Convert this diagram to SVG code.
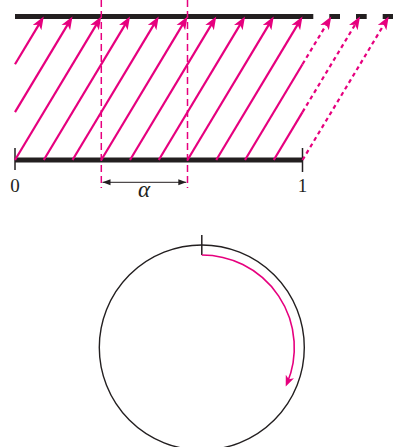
<svg xmlns="http://www.w3.org/2000/svg" width="393" height="447" viewBox="0 0 393 447">
<style>
.bar{stroke:#231f20;stroke-width:5;fill:none}
.tick{stroke:#231f20;stroke-width:1.5;fill:none}
.pk{stroke:#e6007e;stroke-width:2.2;fill:none;marker-end:url(#ph)}
.pks{stroke:#e6007e;stroke-width:2.2;fill:none}
.dot{stroke-dasharray:4 3.5}
.vd{stroke:#e6007e;stroke-width:1.5;stroke-dasharray:7 4;fill:none}
.lbl{font-family:"Liberation Serif",serif;font-size:19px;fill:#231f20;text-anchor:middle}
.greek{font-size:23px;font-style:italic}
</style>
<defs>
<marker id="ph" viewBox="-13 -6 14 12" refX="-6" refY="0" markerWidth="14" markerHeight="12" markerUnits="userSpaceOnUse" orient="auto">
<path d="M0,0 L-13,-5 L-9.5,0 L-13,5 Z" fill="#e6007e"/>
</marker>
<marker id="ph2" viewBox="-11 -5 12 10" refX="-4" refY="0" markerWidth="12" markerHeight="10" markerUnits="userSpaceOnUse" orient="auto">
<path d="M0,0 L-11,-4.5 L-8,0 L-11,4.5 Z" fill="#e6007e"/>
</marker>
<marker id="bh" viewBox="-8 -4 9 8" refX="0" refY="0" markerWidth="9" markerHeight="8" markerUnits="userSpaceOnUse" orient="auto-start-reverse">
<path d="M0,0 L-8,-3 L-8,3 Z" fill="#231f20"/>
</marker>
</defs>
<g id="bars">
<line class="bar" x1="15" y1="16.5" x2="313.3" y2="16.5"/>
<line class="bar" x1="329.3" y1="16.5" x2="340" y2="16.5"/>
<line class="bar" x1="356" y1="16.5" x2="366.7" y2="16.5"/>
<line class="bar" x1="382.7" y1="16.5" x2="393" y2="16.5"/>
<line class="bar" x1="15" y1="160" x2="302.5" y2="160"/>
<line class="tick" x1="15" y1="148" x2="15" y2="170"/>
<line class="tick" x1="302.5" y1="148" x2="302.5" y2="172"/>
</g>
<g id="labels">
<text class="lbl" x="15" y="192">0</text>
<text class="lbl" x="302.5" y="192">1</text>
<text class="lbl greek" x="144" y="197">α</text>
</g>
<g id="connectors">
<line class="vd" x1="101.3" y1="0" x2="101.3" y2="188"/>
<line class="vd" x1="187.5" y1="0" x2="187.5" y2="188"/>
<line x1="102.5" y1="182.3" x2="186.3" y2="182.3" stroke="#231f20" stroke-width="1" marker-start="url(#bh)" marker-end="url(#bh)"/>
<line class="pk" x1="15" y1="160" x2="98.17" y2="21.65"/>
<line class="pk" x1="43.75" y1="160" x2="126.92" y2="21.65"/>
<line class="pk" x1="72.5" y1="160" x2="155.67" y2="21.65"/>
<line class="pk" x1="101.25" y1="160" x2="184.42" y2="21.65"/>
<line class="pk" x1="130" y1="160" x2="213.17" y2="21.65"/>
<line class="pk" x1="158.75" y1="160" x2="241.92" y2="21.65"/>
<line class="pk" x1="187.5" y1="160" x2="270.67" y2="21.65"/>
<line class="pk" x1="216.25" y1="160" x2="299.42" y2="21.65"/>
<line class="pks" x1="245" y1="160" x2="302.5" y2="64.2"/>
<line class="pks" x1="273.75" y1="160" x2="302.5" y2="112.1"/>
<line class="pk" x1="15" y1="64.2" x2="40.67" y2="21.65"/>
<line class="pk" x1="15" y1="112.1" x2="69.42" y2="21.65"/>
<line class="pk dot" x1="302.5" y1="64.2" x2="328.17" y2="21.65"/>
<line class="pk dot" x1="302.5" y1="112.1" x2="356.92" y2="21.65"/>
<line class="pk dot" x1="302.5" y1="160" x2="385.67" y2="21.65"/>
</g>
<g id="circle">
<circle cx="201.8" cy="347.5" r="102.5" fill="none" stroke="#231f20" stroke-width="1.4"/>
<line class="tick" x1="201.8" y1="235" x2="201.8" y2="255"/>
<path d="M201.8,255 A92.5,92.5 0 0 1 287.26,382.9" fill="none" stroke="#e6007e" stroke-width="1.6" marker-end="url(#ph2)"/>
</g>
</svg>
